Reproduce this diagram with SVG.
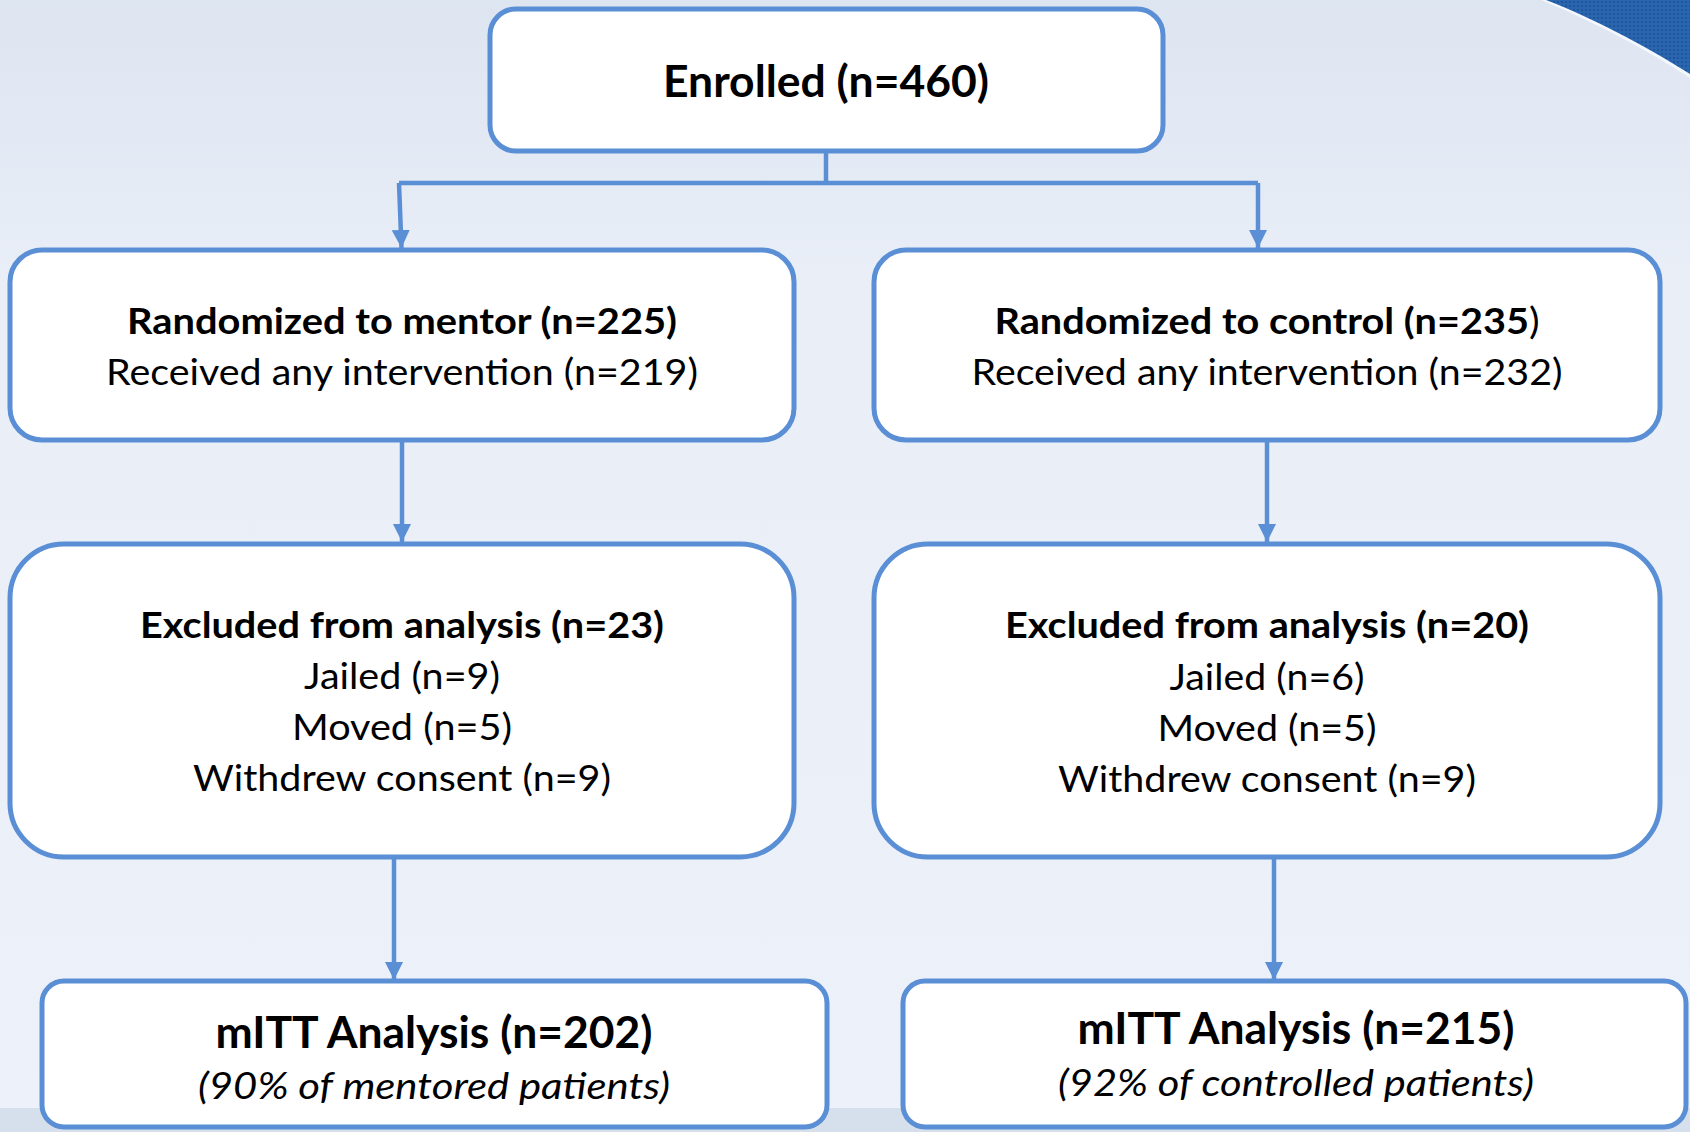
<svg xmlns="http://www.w3.org/2000/svg" width="1690" height="1132" viewBox="0 0 1690 1132">
<defs>
<linearGradient id="bg" x1="0" y1="0" x2="0" y2="1">
<stop offset="0" stop-color="#dde5f1"/>
<stop offset="0.25" stop-color="#e9eef7"/>
<stop offset="1" stop-color="#edf1f9"/>
</linearGradient>
<pattern id="dots" width="4" height="4" patternUnits="userSpaceOnUse">
<rect width="4" height="4" fill="#2a66b0"/>
<circle cx="2" cy="2" r="1" fill="#1b4f91"/>
</pattern>
<marker id="arr" viewBox="0 0 10 10" refX="10" refY="5" markerWidth="4" markerHeight="4" orient="auto" markerUnits="strokeWidth">
<path d="M0,0 L10,5 L0,10 z" fill="#5a8fd6"/>
</marker>
<style>
.box{fill:#ffffff;stroke:#5a8fd6;stroke-width:5}
.con{fill:none;stroke:#5a8fd6;stroke-width:4.5}
.t{font-family:Lato,"Open Sans","Liberation Sans",sans-serif;fill:#000;text-anchor:middle}
.b{font-weight:bold}
.i{font-style:italic}
</style>
</defs>
<rect width="1690" height="1132" fill="url(#bg)"/>
<rect y="1108" width="1690" height="24" fill="#d6dfec"/>
<path d="M1541,0 C1585,18 1640,45 1690,78 L1690,0 Z" fill="#f4f8fd"/>
<path d="M1546,0 C1590,17 1643,44 1690,74 L1690,0 Z" fill="url(#dots)"/>

<g id="connectors">
<path class="con" d="M826,151 V183"/>
<path class="con" d="M399,183 H1258"/>
<path class="con" d="M399,183 L401.5,248" marker-end="url(#arr)"/>
<path class="con" d="M1258,183 V248" marker-end="url(#arr)"/>
<path class="con" d="M402,440 V542" marker-end="url(#arr)"/>
<path class="con" d="M1267,440 V542" marker-end="url(#arr)"/>
<path class="con" d="M394,857 V980" marker-end="url(#arr)"/>
<path class="con" d="M1274,857 V980" marker-end="url(#arr)"/>
</g>

<g id="enrolled">
<rect class="box" x="490" y="9" width="673" height="142" rx="26"/>
<text class="t b" x="826" y="97" font-size="44" textLength="326" lengthAdjust="spacingAndGlyphs">Enrolled (n=460)</text>
</g>

<g id="mentor">
<rect class="box" x="10" y="250" width="784" height="190" rx="32"/>
<text class="t b" x="402" y="334" font-size="37" textLength="550" lengthAdjust="spacingAndGlyphs">Randomized to mentor (n=225)</text>
<text class="t" x="402" y="385" font-size="37" textLength="592" lengthAdjust="spacingAndGlyphs">Received any intervention (n=219)</text>
</g>

<g id="control">
<rect class="box" x="874" y="250" width="786" height="190" rx="32"/>
<text class="t" x="1267" y="334" font-size="37" textLength="545" lengthAdjust="spacingAndGlyphs"><tspan class="b">Randomized to control (n=235</tspan>)</text>
<text class="t" x="1267" y="385" font-size="37" textLength="591" lengthAdjust="spacingAndGlyphs">Received any intervention (n=232)</text>
</g>

<g id="excluded-mentor">
<rect class="box" x="10" y="544" width="784" height="313" rx="54"/>
<text class="t b" x="402" y="638" font-size="37" textLength="524" lengthAdjust="spacingAndGlyphs">Excluded from analysis (n=23)</text>
<text class="t" x="402" y="689" font-size="37" textLength="196" lengthAdjust="spacingAndGlyphs">Jailed (n=9)</text>
<text class="t" x="402" y="740" font-size="37" textLength="220" lengthAdjust="spacingAndGlyphs">Moved (n=5)</text>
<text class="t" x="402" y="791" font-size="37" textLength="418" lengthAdjust="spacingAndGlyphs">Withdrew consent (n=9)</text>
</g>

<g id="excluded-control">
<rect class="box" x="874" y="544" width="786" height="313" rx="54"/>
<text class="t b" x="1267" y="638" font-size="37" textLength="524" lengthAdjust="spacingAndGlyphs">Excluded from analysis (n=20)</text>
<text class="t" x="1267" y="690" font-size="37" textLength="195" lengthAdjust="spacingAndGlyphs">Jailed (n=6)</text>
<text class="t" x="1267" y="741" font-size="37" textLength="219" lengthAdjust="spacingAndGlyphs">Moved (n=5)</text>
<text class="t" x="1267" y="792" font-size="37" textLength="418" lengthAdjust="spacingAndGlyphs">Withdrew consent (n=9)</text>
</g>

<g id="mitt-mentor">
<rect class="box" x="42" y="981" width="785" height="146" rx="22"/>
<text class="t b" x="434" y="1048" font-size="44" textLength="437" lengthAdjust="spacingAndGlyphs">mITT Analysis (n=202)</text>
<text class="t i" x="434" y="1099" font-size="37" textLength="472" lengthAdjust="spacingAndGlyphs">(90% of mentored patients)</text>
</g>

<g id="mitt-control">
<rect class="box" x="903" y="981" width="783" height="146" rx="22"/>
<text class="t b" x="1296" y="1044" font-size="44" textLength="437" lengthAdjust="spacingAndGlyphs">mITT Analysis (n=215)</text>
<text class="t i" x="1296" y="1096" font-size="37" textLength="476" lengthAdjust="spacingAndGlyphs">(92% of controlled patients)</text>
</g>
</svg>
